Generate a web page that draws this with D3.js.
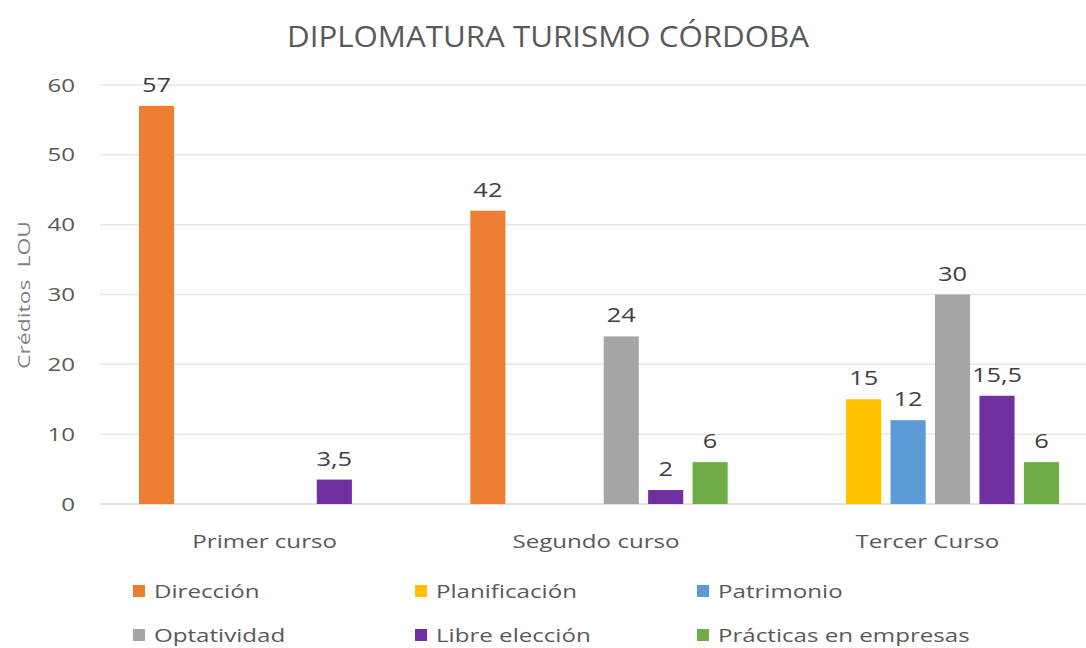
<!DOCTYPE html>
<meta charset="utf-8">
<head>
  <title>Diplomatura Turismo Córdoba</title>
</head>
<style>
  body { margin: 0; background: #fff; }
  text { font-family: "Open Sans", "Noto Sans", sans-serif; fill: #595959; }
</style>

<script src="https://d3js.org/d3.v7.min.js"></script>

<div id="my_dataviz"></div>

<script>
  // data
  var cursos = ["Primer curso", "Segundo curso", "Tercer Curso"];
  var series = ["Dirección", "Planificación", "Patrimonio", "Optatividad", "Libre elección", "Prácticas en empresas"];
  var colores = ["#ED7D31", "#FFC000", "#5B9BD5", "#A5A5A5", "#7030A0", "#70AD47"];
  var direccion = [57, 42, null];
  var planificacion = [null, null, 15];
  var patrimonio = [null, null, 12];
  var optatividad = [null, 24, 30];
  var libre = [3.5, 2, 15.5];
  var practicas = [null, 6, 6];
  var yTicks = [0, 10, 20, 30, 40, 50, 60];

  var valores = [direccion, planificacion, patrimonio, optatividad, libre, practicas];

  var width = 1086, height = 648;
  // the original text is a bit wider than Open Sans, stretch it horizontally
  var sx = 1.27;

  var svg = d3.select("#my_dataviz")
    .append("svg")
    .attr("width", width)
    .attr("height", height);

  function place(x, y) {
    return "translate(" + x + "," + y + ") scale(" + sx + ",1)";
  }

  // title
  svg.append("text")
    .attr("x", 548)
    .attr("y", 47)
    .attr("text-anchor", "middle")
    .style("font-size", "29px")
    .attr("textLength", 522)
    .attr("lengthAdjust", "spacingAndGlyphs")
    .text("DIPLOMATURA TURISMO CÓRDOBA");

  // scales
  var x0 = d3.scaleBand()
    .domain(cursos)
    .range([101, 1095])
    .padding(0);

  var x1 = d3.scaleBand()
    .domain(series)
    .range([38, x0.bandwidth() - 36])
    .paddingInner(0.21)
    .paddingOuter(0);

  var y = d3.scaleLinear()
    .domain([0, 60])
    .range([504, 85]);

  // gridlines
  svg.append("g")
    .selectAll("line")
    .data(yTicks)
    .enter()
    .append("line")
    .attr("x1", 100)
    .attr("x2", 1086)
    .attr("y1", function(d) { return y(d); })
    .attr("y2", function(d) { return y(d); })
    .style("stroke", function(d) { return d === 0 ? "#d9d9d9" : "#e6e6e6"; })
    .style("stroke-width", 1.5);

  // y axis labels
  svg.append("g")
    .selectAll("text")
    .data(yTicks)
    .enter()
    .append("text")
    .attr("transform", function(d) { return place(75, y(d)); })
    .attr("dy", "0.35em")
    .attr("text-anchor", "end")
    .style("font-size", "19px")
    .text(function(d) { return d; });

  // y axis title
  svg.append("text")
    .attr("transform", "translate(30,295) rotate(-90) scale(1.35,1)")
    .attr("text-anchor", "middle")
    .style("font-size", "17px")
    .style("fill", "#7f7f7f")
    .attr("xml:space", "preserve")
    .text("Créditos  LOU");

  // x labels
  svg.append("g")
    .selectAll("text")
    .data(cursos)
    .enter()
    .append("text")
    .attr("transform", function(d) { return place(x0(d) + x0.bandwidth() / 2 - 2, 548); })
    .attr("text-anchor", "middle")
    .style("font-size", "19px")
    .text(function(d) { return d; });

  // bars
  var flat = [];
  cursos.forEach(function(c, i) {
    series.forEach(function(s, j) {
      if (valores[j][i] !== null) {
        flat.push({ curso: c, serie: s, color: colores[j], value: valores[j][i] });
      }
    });
  });

  var fmt = function(v) { return String(v).replace(".", ","); };

  svg.append("g")
    .selectAll("rect")
    .data(flat)
    .enter()
    .append("rect")
    .attr("x", function(d) { return x0(d.curso) + x1(d.serie); })
    .attr("width", x1.bandwidth())
    .attr("y", function(d) { return y(d.value); })
    .attr("height", function(d) { return y(0) - y(d.value); })
    .style("fill", function(d) { return d.color; });

  svg.append("g")
    .selectAll("text")
    .data(flat)
    .enter()
    .append("text")
    .attr("transform", function(d) {
      return place(x0(d.curso) + x1(d.serie) + x1.bandwidth() / 2, y(d.value) - 14);
    })
    .attr("text-anchor", "middle")
    .style("font-size", "20px")
    .style("fill", "#404040")
    .text(function(d) { return fmt(d.value); });

  // legend
  var legX = [133, 415, 697];
  var legY = [591, 635];
  var leg = svg.append("g")
    .selectAll("g")
    .data(series)
    .enter()
    .append("g")
    .attr("transform", function(d, i) {
      return "translate(" + legX[i % 3] + "," + legY[Math.floor(i / 3)] + ")";
    });

  leg.append("rect")
    .attr("x", 0)
    .attr("y", -6)
    .attr("width", 12)
    .attr("height", 12)
    .style("fill", function(d, i) { return colores[i]; });

  leg.append("text")
    .attr("transform", "translate(21,0) scale(" + sx + ",1)")
    .attr("dy", "0.35em")
    .style("font-size", "19px")
    .text(function(d) { return d; });
</script>
